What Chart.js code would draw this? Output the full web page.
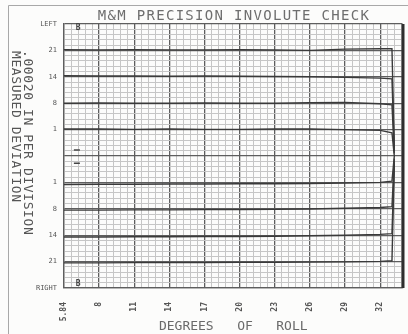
<!DOCTYPE html>
<html>
<head>
<meta charset="utf-8">
<script src="https://cdn.jsdelivr.net/npm/chart.js@4.4.1/dist/chart.umd.min.js"></script>
<style>
  html, body { margin: 0; padding: 0; background: #fff; }
</style>
</head>
<body>
<canvas id="myChart" width="408" height="334"></canvas>
<script>
// degrees of roll at which the traces were read (last two = end of trace + pen drop)
const roll = [5, 8, 11, 14, 17, 20, 23, 26, 29, 32, 33.0, 33.2];

// major tick marks on the roll axis and their printed labels
const rollTicks = [5, 8, 11, 14, 17, 20, 23, 26, 29, 32];
const rollLabels = ['5.84', '8', '11', '14', '17', '20', '23', '26', '29', '32'];

// deviation axis, one label per division from bottom (0) to top (10)
const devLabels = ['RIGHT', '21', '14', '8', '1', '', '1', '8', '14', '21', 'LEFT'];

// left flank traces (teeth 21, 14, 8, 1), in divisions
const left21 = [9.03, 9.02, 9.03, 9.02, 9.02, 9.03, 9.02, 9.00, 9.05, 9.06, 9.06, 5.3];
const left14 = [8.04, 8.03, 8.03, 8.02, 8.03, 8.02, 8.01, 8.00, 7.98, 7.95, 7.92, 5.2];
const left8 = [7.00, 7.01, 7.00, 7.00, 7.01, 7.00, 7.00, 7.02, 7.03, 6.98, 6.94, 5.1];
const left1 = [6.02, 6.02, 6.01, 6.02, 6.01, 6.01, 6.02, 6.02, 6.00, 5.97, 5.88, 5.0];

// right flank traces (teeth 1, 8, 14, 21), in divisions
const right1 = [3.92, 3.93, 3.93, 3.94, 3.94, 3.95, 3.95, 3.96, 3.98, 4.00, 4.05, 5.0];
const right8 = [2.95, 2.95, 2.96, 2.96, 2.97, 2.97, 2.98, 2.99, 3.02, 3.05, 3.08, 4.9];
const right14 = [1.93, 1.93, 1.94, 1.94, 1.95, 1.95, 1.96, 1.98, 2.00, 2.03, 2.06, 4.8];
const right21 = [0.95, 0.95, 0.96, 0.96, 0.96, 0.97, 0.97, 0.98, 0.99, 1.01, 1.03, 4.7];

// small pen marks near the start of the chart
const dashRoll = [6.1, 6.1];
const dashDev = [5.23, 4.73];
const letterRoll = [6.2, 6.2];
const letterDev = [9.85, 0.14];

const traces = [left21, left14, left8, left1, right1, right8, right14, right21];
const traceNames = ['L21', 'L14', 'L8', 'L1', 'R1', 'R8', 'R14', 'R21'];

const MONO = '"DejaVu Sans Mono", "Liberation Mono", monospace';

function isWhole(v, base, step) {
    const k = (v - base) / step;
    return Math.abs(k - Math.round(k)) < 1e-6;
}

const datasets = traces.map(function (arr, i) {
    return {
        label: traceNames[i],
        data: roll.map(function (x, j) { return { x: x, y: arr[j] }; }),
        borderColor: '#3a3a3a',
        borderWidth: 1.4,
        pointRadius: 0,
        tension: 0,
        fill: false
    };
});

datasets.push({
    label: 'marks',
    data: dashRoll.map(function (x, j) { return { x: x, y: dashDev[j] }; }),
    showLine: false,
    pointStyle: 'line',
    pointRadius: 3,
    borderColor: '#444',
    borderWidth: 1.5
});

// paper: background, frame, heading and rotated deviation caption
const paperPlugin = {
    id: 'paper',
    beforeDraw: function (chart) {
        const ctx = chart.ctx;
        ctx.save();
        ctx.fillStyle = '#fcfcfb';
        ctx.fillRect(0, 0, chart.width, chart.height);
        ctx.strokeStyle = '#a8a8a8';
        ctx.lineWidth = 1;
        ctx.beginPath();
        ctx.moveTo(8.5, chart.height);
        ctx.lineTo(8.5, 5.5);
        ctx.lineTo(chart.width, 5.5);
        ctx.stroke();
        ctx.restore();
    },
    afterDraw: function (chart) {
        const ctx = chart.ctx;
        const area = chart.chartArea;
        const xs = chart.scales.x;
        const ys = chart.scales.y;
        ctx.save();
        // right edge of the chart paper
        ctx.strokeStyle = '#2e2e2e';
        ctx.lineWidth = 3;
        ctx.beginPath();
        ctx.moveTo(area.right + 0.5, area.top);
        ctx.lineTo(area.right + 0.5, area.bottom);
        ctx.stroke();

        // heading
        ctx.fillStyle = '#6e6e6e';
        ctx.font = '14px ' + MONO;
        ctx.letterSpacing = '1.3px';
        ctx.textAlign = 'center';
        ctx.textBaseline = 'middle';
        ctx.fillText('M&M PRECISION INVOLUTE CHECK', 234, 16);

        // deviation caption, printed sideways
        ctx.letterSpacing = '0.6px';
        ctx.font = '13px ' + MONO;
        ctx.fillStyle = '#555';
        ctx.textAlign = 'left';
        ctx.save();
        ctx.translate(27, 50);
        ctx.rotate(Math.PI / 2);
        ctx.fillText('.00020 IN PER DIVISION', 0, 0);
        ctx.restore();
        ctx.save();
        ctx.translate(15, 51);
        ctx.rotate(Math.PI / 2);
        ctx.fillText('MEASURED DEVIATION', 0, 0);
        ctx.restore();

        // little pen letters at start of roll
        ctx.letterSpacing = '0px';
        ctx.font = 'bold 8px ' + MONO;
        ctx.fillStyle = '#444';
        ctx.textAlign = 'center';
        letterRoll.forEach(function (x, j) {
            ctx.fillText('B', xs.getPixelForValue(x), ys.getPixelForValue(letterDev[j]));
        });
        ctx.restore();
    }
};

const config = {
    type: 'line',
    data: { datasets: datasets },
    options: {
        responsive: false,
        animation: false,
        devicePixelRatio: 1,
        layout: { padding: { left: 32, top: 24, right: 3, bottom: 0 } },
        plugins: {
            legend: { display: false },
            tooltip: { enabled: false }
        },
        scales: {
            x: {
                type: 'linear',
                min: 5,
                max: 33.9,
                afterBuildTicks: function (axis) {
                    const t = [];
                    for (let i = 0; ; i++) {
                        const v = +(5 + i * 0.6).toFixed(2);
                        if (v > 33.85) break;
                        t.push({ value: v });
                    }
                    axis.ticks = t;
                },
                afterFit: function (axis) {
                    axis.height = 46;
                    axis.paddingLeft = 0;
                    axis.paddingRight = 0;
                },
                grid: {
                    drawTicks: false,
                    color: function (c) { return isWhole(c.tick.value, 5, 3) ? '#5e5e5e' : '#c6c6c6'; },
                    lineWidth: function (c) { return isWhole(c.tick.value, 5, 3) ? 1.3 : 1; }
                },
                border: { color: '#5e5e5e', width: 1.3 },
                ticks: {
                    autoSkip: false,
                    minRotation: 90,
                    maxRotation: 90,
                    padding: 14,
                    color: '#555',
                    font: { family: MONO, size: 8, weight: 'bold' },
                    callback: function (value) {
                        const k = rollTicks.indexOf(+value.toFixed(2));
                        return k >= 0 ? rollLabels[k] : '';
                    }
                },
                title: {
                    display: true,
                    text: 'DEGREES   OF   ROLL',
                    color: '#6a6a6a',
                    font: { family: MONO, size: 13 },
                    padding: { top: 0, bottom: 0 }
                }
            },
            y: {
                type: 'linear',
                min: 0,
                max: 10,
                afterBuildTicks: function (axis) {
                    const t = [];
                    for (let i = 0; i <= 50; i++) t.push({ value: +(i * 0.2).toFixed(2) });
                    axis.ticks = t;
                },
                afterFit: function (axis) {
                    axis.width = 32;
                    axis.paddingTop = 0;
                    axis.paddingBottom = 0;
                },
                grid: {
                    drawTicks: false,
                    color: function (c) { return isWhole(c.tick.value, 0, 1) ? '#5e5e5e' : '#c6c6c6'; },
                    lineWidth: function (c) { return isWhole(c.tick.value, 0, 1) ? 1.3 : 1; }
                },
                border: { color: '#5e5e5e', width: 1.3 },
                ticks: {
                    autoSkip: false,
                    padding: 7,
                    color: '#555',
                    font: { family: MONO, size: 7 },
                    callback: function (value) {
                        return isWhole(value, 0, 1) ? devLabels[Math.round(value)] : '';
                    }
                }
            }
        }
    },
    plugins: [paperPlugin]
};

const myChart = new Chart(document.getElementById('myChart'), config);
</script>
</body>
</html>
